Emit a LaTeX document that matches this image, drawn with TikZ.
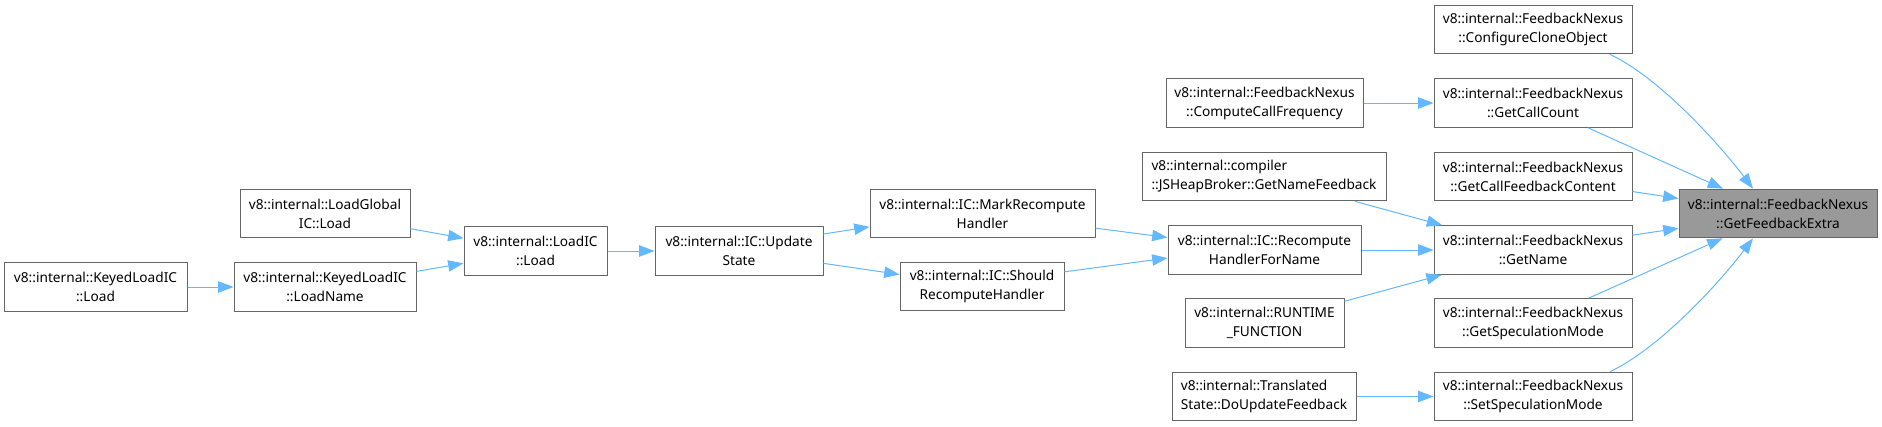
\documentclass[tikz,border=0pt]{standalone}
\usepackage{fontspec}
\setmainfont{Noto Sans}
\usetikzlibrary{arrows.meta}
\definecolor{edgeblue}{HTML}{63B8FF}
\definecolor{boxborder}{HTML}{666666}
\definecolor{grayfill}{HTML}{999999}
\begin{document}
\begin{tikzpicture}[x=0.75pt,y=-0.75pt,
  box/.style={draw=boxborder, line width=0.75pt, fill=white,
    font=\fontsize{10.25}{14.2}\selectfont, align=center,
    minimum height=36.5pt, inner xsep=0pt, inner ysep=2pt,
    minimum width={#1*0.75pt}},
  box/.default=198,
  lbox/.style={box=#1, align=left},
  hl/.style={fill=grayfill},
  edge/.style={draw=edgeblue, line width=0.75pt,
    -{Triangle[length=11.5pt,width=8.5pt]}}]
\useasboundingbox (0,0) rectangle (1882,426);

% column 0-4
\node[box=183] (kl)  at (95.5,287)  {v8::internal::KeyedLoadIC\\::Load};
\node[box=170] (lg)  at (325,213.5) {v8::internal::LoadGlobal\\IC::Load};
\node[box=182] (kln) at (325,287)   {v8::internal::KeyedLoadIC\\::LoadName};
\node[box=143] (lic) at (535.5,251) {v8::internal::LoadIC\\::Load};
\node[box=168] (us)  at (739,251)   {v8::internal::IC::Update\\State};
\node[box=225] (mrh) at (982.5,213.5) {v8::internal::IC::MarkRecompute\\Handler};
\node[box=164] (srh) at (982,286.5) {v8::internal::IC::Should\\RecomputeHandler};

% column 5
\node[box=197] (ccf) at (1264.5,103) {v8::internal::FeedbackNexus\\::ComputeCallFrequency};
\node[lbox=244] (jsh) at (1264,176.5) {v8::internal::compiler\\::JSHeapBroker::GetNameFeedback};
\node[box=193] (rhn) at (1264.5,250) {v8::internal::IC::Recompute\\HandlerForName};
\node[box=159] (rf)  at (1264.5,323) {v8::internal::RUNTIME\\\_FUNCTION};
\node[lbox=184] (duf) at (1264,396.5) {v8::internal::Translated\\State::DoUpdateFeedback};

% column 6
\node[box] (cfg)  at (1533,29.5)  {v8::internal::FeedbackNexus\\::ConfigureCloneObject};
\node[box] (gcc)  at (1533,103)   {v8::internal::FeedbackNexus\\::GetCallCount};
\node[box] (gcfc) at (1533,176.5) {v8::internal::FeedbackNexus\\::GetCallFeedbackContent};
\node[box] (gn)   at (1533,250)   {v8::internal::FeedbackNexus\\::GetName};
\node[box] (gsm)  at (1533,323)   {v8::internal::FeedbackNexus\\::GetSpeculationMode};
\node[box] (ssm)  at (1533,396.5) {v8::internal::FeedbackNexus\\::SetSpeculationMode};

% target
\node[box, hl] (gfe) at (1778,213.5) {v8::internal::FeedbackNexus\\::GetFeedbackExtra};

% edges
\draw[edge] (kl) -- (kln);
\draw[edge] (lg) -- (lic);
\draw[edge] (kln) -- (lic);
\draw[edge] (lic) -- (us);
\draw[edge] ([yshift=12.75pt]us.east) -- ([yshift=-10pt]mrh.west);
\draw[edge] (us) -- (srh);
\draw[edge] (mrh) -- (rhn);
\draw[edge] ([yshift=11pt]srh.east) -- ([yshift=-6pt]rhn.west);
\draw[edge] (jsh) -- (gn);
\draw[edge] (rhn) -- (gn);
\draw[edge] (rf) -- (gn);
\draw[edge] (ccf) -- (gcc);
\draw[edge] (duf) -- (ssm);
\draw[edge] ([xshift=57.75pt]cfg.south) .. controls (1660,78) and (1720,145) .. ([xshift=-18.75pt]gfe.north);
\draw[edge] (gcc) -- (gfe);
\draw[edge] (gcfc) -- (gfe);
\draw[edge] (gn) -- (gfe);
\draw[edge] (gsm) -- (gfe);
\draw[edge] ([xshift=57.75pt]ssm.north) .. controls (1660,348) and (1720,282) .. ([xshift=-18.75pt]gfe.south);
\end{tikzpicture}
\end{document}
